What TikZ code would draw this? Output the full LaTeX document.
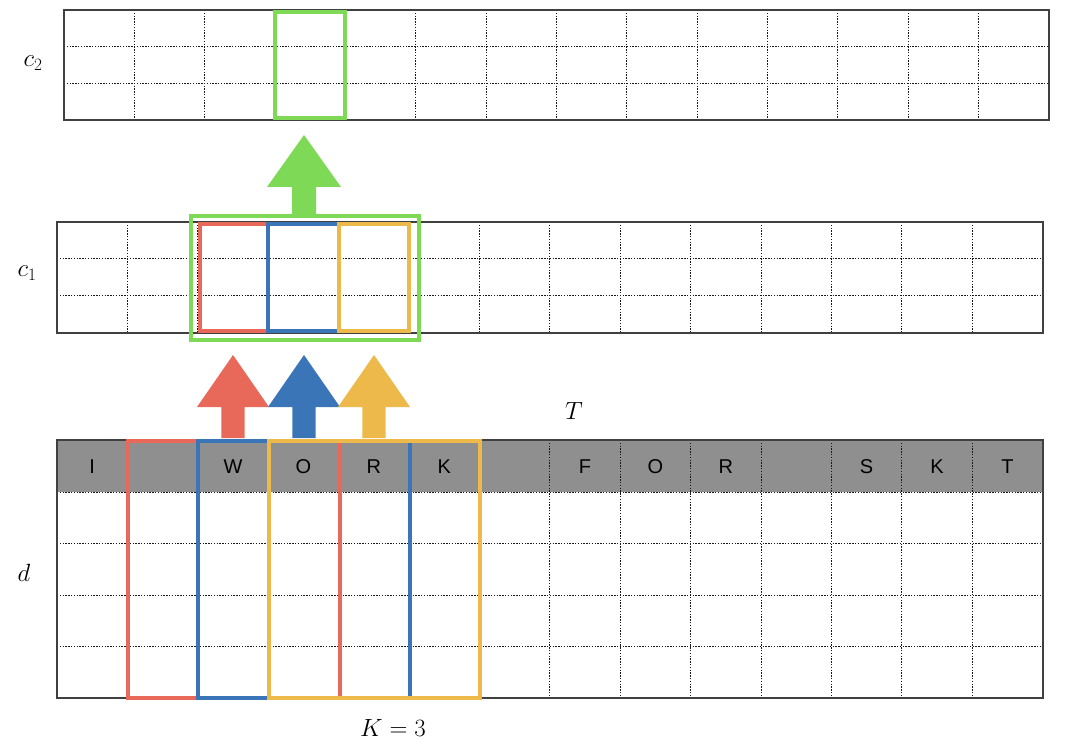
\documentclass[tikz,border=0pt]{standalone}
\usepackage{fontspec}
\newfontfamily\letterfont{Liberation Sans}
\definecolor{wred}{HTML}{E8695A}
\definecolor{wblue}{HTML}{3A75B8}
\definecolor{wyellow}{HTML}{ECB94A}
\definecolor{wgreen}{HTML}{7ED957}
\definecolor{hdrgray}{HTML}{8F8F8F}
\begin{document}
\begin{tikzpicture}[x=1pt,y=-1pt,
  gridframe/.style={draw=black!75, line width=1.2pt},
  gridline/.style={draw=black!90, line width=1pt, dash pattern=on 1.4pt off 1.4pt},
  win/.style={line width=4pt},
  mathlabel/.style={inner sep=0pt, font=\fontsize{26}{30}\selectfont},
  letter/.style={inner sep=0pt, font=\letterfont\fontsize{20}{24}\selectfont}]
\useasboundingbox (0,0) rectangle (1080,746);
\def\cw{70.4}
% ---------- c2 ----------
\foreach \i in {1,...,13} \draw[gridline] ({64+\i*70.36},10) -- ({64+\i*70.36},120);
\foreach \j in {1,2} \draw[gridline] (64,{10+\j*36.67}) -- (1049,{10+\j*36.67});
\draw[gridframe] (64,10) rectangle (1049,120);
\draw[win, wgreen] (274.7,12) rectangle (345.3,118);
\node[mathlabel] (lc2) at (33,63) {$c_2$};
% ---------- c1 ----------
\foreach \i in {1,...,13} \draw[gridline] ({57+\i*\cw},222) -- ({57+\i*\cw},333);
\foreach \j in {1,2} \draw[gridline] (57,{222+\j*37}) -- (1043,{222+\j*37});
\draw[gridframe] (57,222) rectangle (1043,333);
\draw[win, wred] (199.8,224.5) rectangle (268.2,331);
\draw[win, wblue] (268.2,224.5) rectangle (338.6,331);
\draw[win, wyellow] (338.6,224.5) rectangle (409.3,331);
\draw[win, wgreen] (191,216) rectangle (418.7,339.6);
\node[mathlabel] (lc1) at (27,273) {$c_1$};
% ---------- d ----------
\fill[hdrgray] (57,440) rectangle (1043,492);
\foreach \i in {1,...,13} \draw[gridline] ({57+\i*\cw},440) -- ({57+\i*\cw},698);
\foreach \j in {0,1,2,3} \draw[gridline] (57,{492+\j*51.5}) -- (1043,{492+\j*51.5});
\draw[gridframe] (57,440) rectangle (1043,698);
\foreach \t [count=\k from 0] in {I,,W,O,R,K,,F,O,R,,S,K,T}
  \node[letter] (ch\k) at ({57+(\k+0.5)*\cw},467) {\t};
\draw[win, wred] (127.6,441.2) rectangle (339.5,698);
\draw[win, wblue] (198.2,441.2) rectangle (409.6,698);
\draw[win, wyellow] (268.5,441.2) rectangle (480,698);
\node[mathlabel] (ld) at (24,573) {$d$};
\node[mathlabel] (lT) at (574,411) {$T$};
\node[mathlabel, font=\fontsize{24}{28}\selectfont] (lK) at (393,728) {$K=3$};
% ---------- arrows ----------
\foreach \cx/\col in {233/wred, 304/wblue, 374/wyellow}
  \fill[\col] (\cx,355) -- ({\cx+36},407) -- ({\cx+11.7},407) -- ({\cx+11.7},438)
     -- ({\cx-11.7},438) -- ({\cx-11.7},407) -- ({\cx-36},407) -- cycle;
\fill[wgreen] (304,135) -- (341,187) -- (316,187) -- (316,216) -- (292,216) -- (292,187) -- (267,187) -- cycle;
\end{tikzpicture}
\end{document}
